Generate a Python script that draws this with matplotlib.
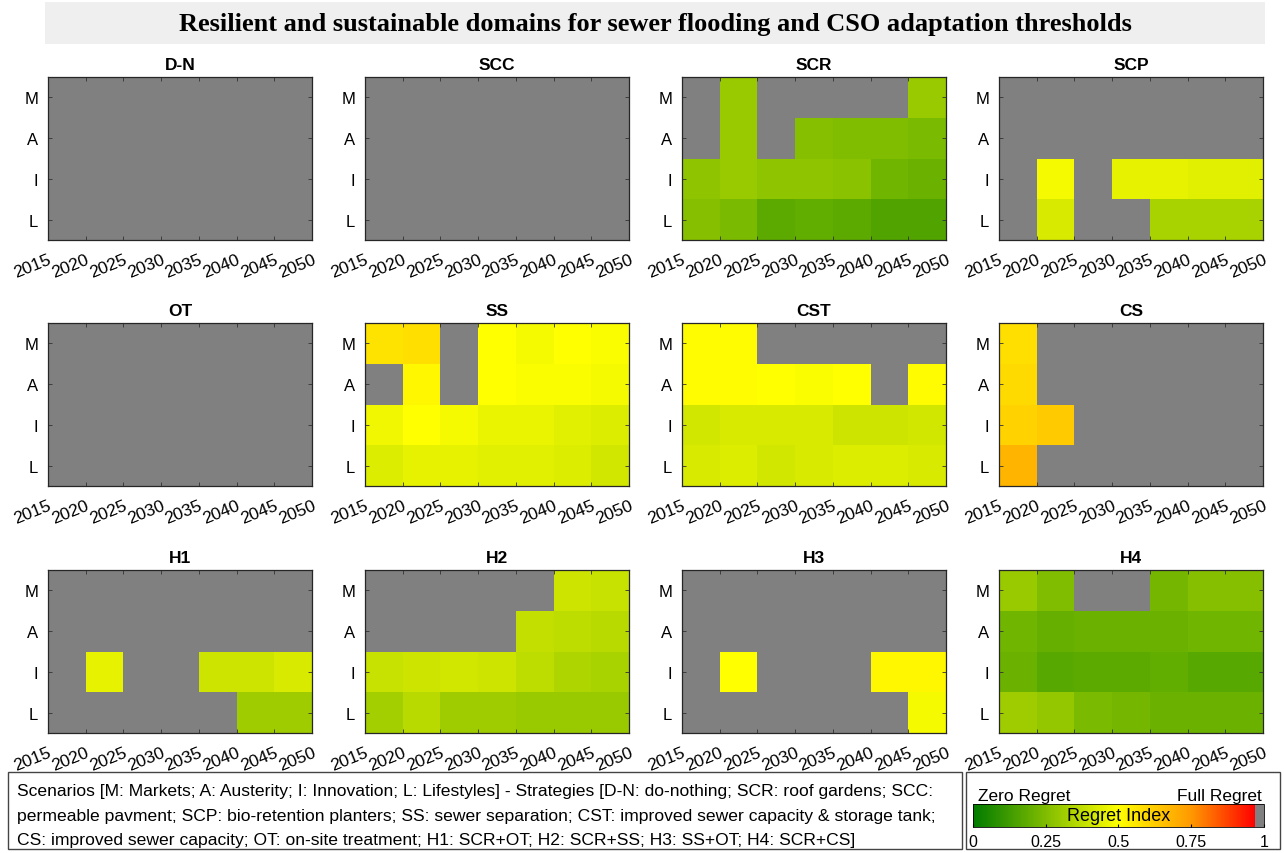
import numpy as np
import matplotlib.pyplot as plt
from matplotlib.colors import LinearSegmentedColormap, Normalize
from matplotlib.cm import ScalarMappable
from matplotlib.patches import Rectangle

nan = np.nan

years = [2015, 2020, 2025, 2030, 2035, 2040, 2045, 2050]
scenarios = ['M', 'A', 'I', 'L']

# regret index, rows = scenarios (M, A, I, L), columns = 5-year periods
# nan = not resilient/sustainable (drawn grey)
dn = np.full((4, 7), nan)
scc = np.full((4, 7), nan)
ot = np.full((4, 7), nan)

scr = np.array([
    [nan, 0.30, nan, nan, nan, nan, 0.30],
    [nan, 0.30, nan, 0.26, 0.25, 0.25, 0.24],
    [0.28, 0.30, 0.28, 0.28, 0.27, 0.22, 0.21],
    [0.26, 0.24, 0.18, 0.19, 0.18, 0.16, 0.16],
])
scp = np.array([
    [nan, nan, nan, nan, nan, nan, nan],
    [nan, nan, nan, nan, nan, nan, nan],
    [nan, 0.48, nan, 0.45, 0.45, 0.44, 0.44],
    [nan, 0.42, nan, nan, 0.33, 0.33, 0.33],
])
ss = np.array([
    [0.57, 0.58, nan, 0.50, 0.48, 0.50, 0.49],
    [nan, 0.52, nan, 0.50, 0.49, 0.49, 0.48],
    [0.47, 0.50, 0.48, 0.46, 0.46, 0.44, 0.43],
    [0.43, 0.45, 0.45, 0.44, 0.44, 0.43, 0.41],
])
cst = np.array([
    [0.51, 0.51, nan, nan, nan, nan, nan],
    [0.51, 0.51, 0.50, 0.49, 0.50, nan, 0.51],
    [0.41, 0.42, 0.42, 0.42, 0.40, 0.40, 0.41],
    [0.42, 0.43, 0.41, 0.42, 0.43, 0.43, 0.42],
])
cs = np.array([
    [0.58, nan, nan, nan, nan, nan, nan],
    [0.59, nan, nan, nan, nan, nan, nan],
    [0.61, 0.63, nan, nan, nan, nan, nan],
    [0.68, nan, nan, nan, nan, nan, nan],
])
h1 = np.array([
    [nan, nan, nan, nan, nan, nan, nan],
    [nan, nan, nan, nan, nan, nan, nan],
    [nan, 0.45, nan, nan, 0.40, 0.40, 0.42],
    [nan, nan, nan, nan, nan, 0.31, 0.31],
])
h2 = np.array([
    [nan, nan, nan, nan, nan, 0.40, 0.39],
    [nan, nan, nan, nan, 0.38, 0.37, 0.36],
    [0.39, 0.40, 0.41, 0.40, 0.37, 0.34, 0.33],
    [0.32, 0.36, 0.31, 0.31, 0.30, 0.30, 0.30],
])
h3 = np.array([
    [nan, nan, nan, nan, nan, nan, nan],
    [nan, nan, nan, nan, nan, nan, nan],
    [nan, 0.50, nan, nan, nan, 0.52, 0.52],
    [nan, nan, nan, nan, nan, nan, 0.48],
])
h4 = np.array([
    [0.30, 0.25, nan, nan, 0.23, 0.26, 0.26],
    [0.22, 0.20, 0.21, 0.21, 0.21, 0.22, 0.22],
    [0.21, 0.17, 0.18, 0.18, 0.19, 0.17, 0.17],
    [0.31, 0.29, 0.24, 0.23, 0.21, 0.21, 0.21],
])

titles = ['D-N', 'SCC', 'SCR', 'SCP', 'OT', 'SS', 'CST', 'CS', 'H1', 'H2', 'H3', 'H4']
panels = [dn, scc, scr, scp, ot, ss, cst, cs, h1, h2, h3, h4]

grey = (0.5, 0.5, 0.5)
cmap = LinearSegmentedColormap.from_list('regret', [
    (0.0, (0.0, 0.48, 0.0)),
    (0.5, (1.0, 1.0, 0.0)),
    (0.75, (1.0, 0.6, 0.0)),
    (0.97, (1.0, 0.0, 0.0)),
    (0.97, grey),
    (1.0, grey),
], N=512)
cmap.set_bad(grey)
norm = Normalize(0, 1)

plt.rcParams['font.family'] = ['Liberation Sans', 'DejaVu Sans']

W, H = 1284, 854
fig = plt.figure(figsize=(W / 100, H / 100), dpi=100)


def px_box(x0, y0, x1, y1):
    # pixel box (top-left origin) -> figure fractions
    return [x0 / W, 1 - y1 / H, (x1 - x0) / W, (y1 - y0) / H]


# title band
fig.patches.append(Rectangle((45 / W, 1 - 45 / H), 1220 / W, 42 / H,
                             transform=fig.transFigure, facecolor='#efefef',
                             edgecolor='none', zorder=-2))
fig.text(655 / W, 1 - 24 / H,
         'Resilient and sustainable domains for sewer flooding and CSO adaptation thresholds',
         ha='center', va='center', fontsize=19, fontweight='bold',
         family='Liberation Serif')

col_left = [48, 365, 682, 999]
row_top = [78, 324, 571]
aw, ah = 264, 163
ycent = np.arange(4) + 0.5

for k, (name, vals) in enumerate(zip(titles, panels)):
    r, c = divmod(k, 4)
    x0, y0 = col_left[c], row_top[r]
    ax = fig.add_axes(px_box(x0, y0, x0 + aw, y0 + ah))
    ax.pcolormesh(years, np.arange(5), np.ma.masked_invalid(vals),
                  cmap=cmap, norm=norm)
    ax.set_xlim(2015, 2050)
    ax.set_ylim(4, 0)
    ax.set_xticks(years)
    ax.set_xticklabels([str(y) for y in years], rotation=22, ha='right',
                       rotation_mode='anchor', fontsize=12.5)
    ax.set_yticks(ycent)
    ax.set_yticklabels(scenarios, fontsize=12)
    ax.tick_params(direction='in', top=True, right=True, length=3,
                   width=0.6, color='#333333', pad=7)
    ax.tick_params(axis='x', pad=8)
    for s in ax.spines.values():
        s.set_color('#262626')
        s.set_linewidth(0.9)
    ax.set_title(name, fontsize=12.5, fontweight='bold', pad=6)

# legend text box
fig.patches.append(Rectangle((8 / W, 1 - 850 / H), 954 / W, 77 / H,
                             transform=fig.transFigure, facecolor='white',
                             edgecolor='#444444', linewidth=1, zorder=-1))
lines = [
    'Scenarios [M: Markets; A: Austerity; I: Innovation; L: Lifestyles] - Strategies [D-N: do-nothing; SCR: roof gardens; SCC:',
    'permeable pavment; SCP: bio-retention planters; SS: sewer separation; CST: improved sewer capacity & storage tank;',
    'CS: improved sewer capacity; OT: on-site treatment; H1: SCR+OT; H2: SCR+SS; H3: SS+OT; H4: SCR+CS]',
]
for i, txt in enumerate(lines):
    fig.text(17 / W, 1 - (792 + 24.5 * i) / H, txt, ha='left', va='center',
             fontsize=12.6)

# colour bar box
fig.patches.append(Rectangle((966 / W, 1 - 850 / H), 314 / W, 77 / H,
                             transform=fig.transFigure, facecolor='white',
                             edgecolor='#444444', linewidth=1, zorder=-1))
fig.text(978 / W, 1 - 797 / H, 'Zero Regret', ha='left', va='center', fontsize=12.5)
fig.text(1262 / W, 1 - 797 / H, 'Full Regret', ha='right', va='center', fontsize=12.5)

cax = fig.add_axes(px_box(973, 805, 1264, 828))
cax.set_zorder(3)
cb = fig.colorbar(ScalarMappable(norm=norm, cmap=cmap), cax=cax,
                  orientation='horizontal', ticks=[0, 0.25, 0.5, 0.75, 1])
cb.ax.set_xticklabels(['0', '0.25', '0.5', '0.75', '1'])
cb.ax.tick_params(labelsize=11.5, length=2, direction='in', pad=5)
cb.outline.set_linewidth(0.6)
cax.text(0.5, 0.5, 'Regret Index', transform=cax.transAxes, ha='center',
         va='center', fontsize=13)

fig.savefig('out.png', dpi=100)
